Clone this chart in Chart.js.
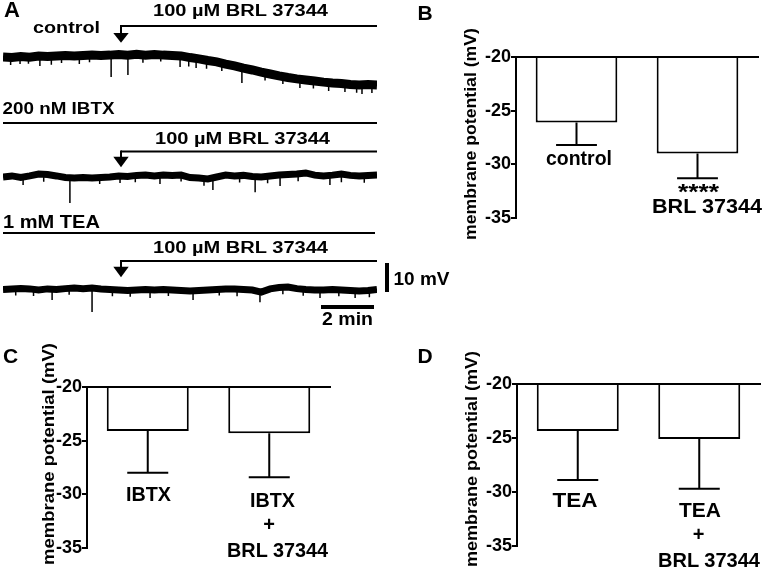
<!DOCTYPE html>
<html>
<head>
<meta charset="utf-8">
<script src="https://cdn.jsdelivr.net/npm/chart.js@4.4.1/dist/chart.umd.min.js"></script>
<style>
  html, body { margin: 0; padding: 0; background: #fff; }
  #page { position: relative; width: 762px; height: 571px; overflow: hidden; background: #fff; }
  canvas { position: absolute; }
  #overlay { position: absolute; left: 0; top: 0; pointer-events: none; }
  #overlay text { font-family: "Liberation Sans", Arial, sans-serif; font-weight: bold; fill: #000; }
</style>
</head>
<body>
<div id="page">
  <canvas id="trace1" width="374" height="66" style="left:3px;top:40px"></canvas>
  <canvas id="trace2" width="374" height="66" style="left:3px;top:150px"></canvas>
  <canvas id="trace3" width="374" height="66" style="left:3px;top:260px"></canvas>
  <canvas id="barB" width="301" height="210" style="left:461px;top:30px"></canvas>
  <canvas id="barC" width="300" height="210" style="left:40px;top:360px"></canvas>
  <canvas id="barD" width="300" height="211" style="left:462px;top:357px"></canvas>

  <svg id="overlay" width="762" height="571">
    <!-- drug application bars and arrows -->
    <g stroke="#000" stroke-width="2" fill="none">
      <line x1="121" y1="26" x2="377" y2="26"/>
      <line x1="121" y1="25" x2="121" y2="34"/>
      <line x1="3" y1="123" x2="377" y2="123"/>
      <line x1="121" y1="151.5" x2="377" y2="151.5"/>
      <line x1="121" y1="150.5" x2="121" y2="158"/>
      <line x1="3" y1="233" x2="375" y2="233"/>
      <line x1="121" y1="261" x2="377" y2="261"/>
      <line x1="121" y1="260" x2="121" y2="268"/>
    </g>
    <g fill="#000">
      <polygon points="113.3,33 128.7,33 121,42.7"/>
      <polygon points="113.3,156.7 128.7,156.7 121,167.3"/>
      <polygon points="113.3,266.7 128.7,266.7 121,277.3"/>
      <!-- scale bars: 10 mV / 2 min -->
      <rect x="385" y="263" width="4" height="29"/>
      <rect x="321" y="305" width="53" height="4"/>
    </g>

    <text x="12" y="17" font-size="22" text-anchor="middle">A</text>
    <text x="240.5" y="16" font-size="16" text-anchor="middle" textLength="175" lengthAdjust="spacingAndGlyphs">100 µM BRL 37344</text>
    <text x="66.5" y="33" font-size="17" text-anchor="middle" textLength="67" lengthAdjust="spacingAndGlyphs">control</text>
    <text x="58.5" y="114" font-size="17" text-anchor="middle" textLength="112" lengthAdjust="spacingAndGlyphs">200 nM IBTX</text>
    <text x="242.5" y="143.5" font-size="16" text-anchor="middle" textLength="175" lengthAdjust="spacingAndGlyphs">100 µM BRL 37344</text>
    <text x="51.5" y="228" font-size="18" text-anchor="middle" textLength="97" lengthAdjust="spacingAndGlyphs">1 mM TEA</text>
    <text x="240.5" y="253" font-size="16" text-anchor="middle" textLength="175" lengthAdjust="spacingAndGlyphs">100 µM BRL 37344</text>
    <text x="421.5" y="285" font-size="18" text-anchor="middle" textLength="56" lengthAdjust="spacingAndGlyphs">10 mV</text>
    <text x="347.5" y="325" font-size="19" text-anchor="middle" textLength="51" lengthAdjust="spacingAndGlyphs">2 min</text>

    <text x="425" y="20" font-size="21" text-anchor="middle">B</text>
    <text transform="translate(475.8,134) rotate(-90)" font-size="16.5" text-anchor="middle" textLength="212" lengthAdjust="spacingAndGlyphs">membrane potential (mV)</text>
    <text x="579" y="165" font-size="20" text-anchor="middle" textLength="66" lengthAdjust="spacingAndGlyphs">control</text>
    <text x="698.5" y="199" font-size="22" text-anchor="middle" textLength="41" lengthAdjust="spacingAndGlyphs">****</text>
    <text x="707" y="213" font-size="21" text-anchor="middle" textLength="110" lengthAdjust="spacingAndGlyphs">BRL 37344</text>

    <text x="10.5" y="363" font-size="21" text-anchor="middle">C</text>
    <text transform="translate(54.3,454) rotate(-90)" font-size="16.5" text-anchor="middle" textLength="222" lengthAdjust="spacingAndGlyphs">membrane potential (mV)</text>
    <text x="148.5" y="501" font-size="20" text-anchor="middle" textLength="45" lengthAdjust="spacingAndGlyphs">IBTX</text>
    <text x="272.5" y="507" font-size="20" text-anchor="middle" textLength="45" lengthAdjust="spacingAndGlyphs">IBTX</text>
    <text x="269" y="531" font-size="20" text-anchor="middle">+</text>
    <text x="277.5" y="557" font-size="20" text-anchor="middle" textLength="101" lengthAdjust="spacingAndGlyphs">BRL 37344</text>

    <text x="425" y="363" font-size="21" text-anchor="middle">D</text>
    <text transform="translate(476.8,459) rotate(-90)" font-size="16.5" text-anchor="middle" textLength="216" lengthAdjust="spacingAndGlyphs">membrane potential (mV)</text>
    <text x="575" y="507" font-size="20" text-anchor="middle" textLength="45" lengthAdjust="spacingAndGlyphs">TEA</text>
    <text x="700" y="517" font-size="20" text-anchor="middle" textLength="42" lengthAdjust="spacingAndGlyphs">TEA</text>
    <text x="698.5" y="541" font-size="20" text-anchor="middle">+</text>
    <text x="709" y="567" font-size="20" text-anchor="middle" textLength="102" lengthAdjust="spacingAndGlyphs">BRL 37344</text>
  </svg>
</div>

<script>
// ---- panel A: recordings, time in min, membrane potential relative (mV) ----
const traceTime = [0, 0.35, 0.7, 1.05, 1.4, 1.75, 2.1, 2.45, 2.8, 3.15, 3.5, 3.85, 4.2, 4.55, 4.9, 5.25, 5.6, 5.95, 6.3, 6.65,
    7.0, 7.35, 7.7, 8.05, 8.4, 8.75, 9.1, 9.45, 9.8, 10.15, 10.5, 10.85, 11.2, 11.55, 11.9, 12.25, 12.6, 12.95, 13.3, 13.65,
    14.0, 14.35, 14.7];

// control
const trace1 = [-6.3, -6.5, -6.1, -6.4, -5.9, -6.1, -5.9, -5.7, -5.9, -5.7, -5.6, -5.7, -5.6, -5.4, -5.6, -5.3, -5.6, -5.4, -5.6, -5.7,
    -5.9, -6.5, -7.0, -7.6, -8.1, -8.9, -9.6, -10.4, -11.1, -11.9, -12.6, -13.3, -13.9, -14.4, -14.8, -15.2, -15.6, -15.9, -16.1, -16.5,
    -16.7, -16.5, -16.7];
const spike1Time = [0.3, 0.67, 1.0, 1.45, 1.9, 2.3, 3.0, 3.4, 4.25, 4.91, 5.5, 6.2, 6.96, 7.3, 7.59, 8.0, 8.6, 9.39, 10.3, 11.0,
    11.67, 12.2, 12.8, 13.44, 13.9, 14.11, 14.5];
const spike1Base = [-6.5, -6.3, -6.1, -6.0, -6.0, -5.9, -5.8, -5.7, -5.6, -5.6, -5.5, -5.5, -5.9, -6.4, -6.8, -7.5, -8.5, -10.4, -12.0, -13.3,
    -14.6, -15.1, -15.7, -16.2, -16.6, -16.6, -16.5];
const spike1Tip = [-9.3, -8.9, -8.8, -9.6, -9.2, -8.5, -8.9, -8.2, -13.7, -13.0, -8.4, -8.0, -10.0, -9.8, -10.4, -10.6, -11.5, -15.9, -15.0, -16.3,
    -17.8, -18.0, -18.9, -19.3, -19.5, -20.0, -19.6];

// 200 nM IBTX
const trace2 = [-10.0, -9.6, -10.2, -9.6, -8.9, -9.1, -9.6, -10.2, -10.4, -10.2, -10.4, -10.2, -10.0, -9.6, -9.8, -9.4, -9.3, -9.6, -9.3, -9.4,
    -9.3, -10.2, -10.4, -10.7, -10.0, -9.3, -9.6, -9.4, -9.8, -10.0, -9.6, -9.3, -9.1, -8.9, -8.5, -9.3, -9.6, -9.3, -8.9, -9.4,
    -9.6, -9.4, -9.3];
const spike2Time = [0.79, 1.6, 2.63, 3.8, 4.6, 5.2, 6.17, 7.0, 7.9, 8.25, 9.3, 9.91, 10.4, 10.89, 11.6, 12.85, 13.3, 14.2];
const spike2Base = [-10.1, -9.2, -10.3, -10.3, -9.8, -9.4, -9.5, -9.3, -10.5, -10.5, -9.5, -9.7, -9.8, -9.4, -8.9, -9.3, -9.3, -9.5];
const spike2Tip = [-13.0, -11.8, -19.6, -12.6, -12.2, -11.9, -12.6, -11.7, -13.2, -14.8, -12.0, -15.6, -12.3, -13.3, -11.6, -13.0, -11.9, -12.1];

// 1 mM TEA
const trace3 = [-10.9, -10.7, -10.6, -10.7, -11.1, -10.7, -10.9, -10.6, -10.4, -10.6, -10.4, -10.7, -10.9, -11.1, -11.3, -11.1, -10.9, -11.1, -10.9, -11.1,
    -11.3, -11.5, -11.3, -11.1, -10.9, -10.7, -10.7, -10.9, -11.1, -11.9, -10.7, -10.2, -10.0, -10.6, -10.9, -11.1, -11.1, -10.9, -11.1, -11.3,
    -11.5, -11.3, -10.9];
const spike3Time = [0.5, 1.2, 1.93, 2.6, 3.5, 4.3, 5.0, 5.78, 6.5, 7.47, 8.5, 9.2, 10.1, 11.0, 11.8, 12.46, 13.2, 13.84, 14.4];
const spike3Base = [-10.7, -10.8, -10.7, -10.7, -10.5, -11.0, -11.2, -11.0, -11.0, -11.4, -10.9, -10.9, -11.5, -10.2, -10.9, -11.1, -11.0, -11.2, -11.2];
const spike3Tip = [-13.1, -13.3, -14.8, -12.9, -19.3, -13.4, -13.6, -14.1, -13.3, -14.8, -13.1, -13.4, -15.6, -12.7, -13.2, -14.1, -13.4, -14.1, -13.8];

// ---- panels B, C, D: mean membrane potential (mV) and SEM ----
const labelsB = ["control", "BRL 37344"];
const meanB = [-26.1, -29.0];
const semB = [2.1, 2.3];

const labelsC = ["IBTX", "IBTX + BRL 37344"];
const meanC = [-24.1, -24.3];
const semC = [3.9, 4.1];

const labelsD = ["TEA", "TEA + BRL 37344"];
const meanD = [-24.35, -25.1];
const semD = [4.55, 4.6];

const yTicks = [-20, -25, -30, -35];

const FONT = "'Liberation Sans', Arial, sans-serif";

function makeTrace(id, values, spikeTime, spikeBase, spikeTip, width) {
    const spikes = [];
    spikeTime.forEach((t, i) => {
        spikes.push({x: t, y: spikeBase[i]}, {x: t, y: spikeTip[i]}, {x: t, y: null});
    });
    return new Chart(document.getElementById(id), {
        type: 'line',
        data: {
            datasets: [
                {
                    data: traceTime.map((t, i) => ({x: t, y: values[i]})),
                    borderColor: '#000',
                    borderWidth: width,
                    pointRadius: 0,
                    tension: 0
                },
                {
                    data: spikes,
                    borderColor: '#000',
                    borderWidth: 1.5,
                    pointRadius: 0,
                    spanGaps: false
                }
            ]
        },
        options: {
            responsive: false,
            animation: false,
            layout: { padding: 0 },
            plugins: { legend: { display: false }, tooltip: { enabled: false } },
            scales: {
                x: { type: 'linear', display: false, min: 0, max: 14.7 },
                y: { display: false, min: -24.44, max: 0 }
            }
        }
    });
}

makeTrace('trace1', trace1, spike1Time, spike1Base, spike1Tip, 9);
makeTrace('trace2', trace2, spike2Time, spike2Base, spike2Tip, 7);
makeTrace('trace3', trace3, spike3Time, spike3Base, spike3Tip, 7);

// error bars hanging below each bar, cap half as wide as the bar
const errorBars = {
    id: 'errorBars',
    afterDatasetsDraw(chart) {
        const ctx = chart.ctx;
        const ds = chart.data.datasets[0];
        const yScale = chart.scales.y;
        ctx.save();
        ctx.strokeStyle = '#000';
        ctx.lineWidth = 2;
        chart.getDatasetMeta(0).data.forEach((bar, i) => {
            const y0 = yScale.getPixelForValue(ds.data[i]);
            const y1 = yScale.getPixelForValue(ds.data[i] - ds.errors[i]);
            const half = bar.width / 4;
            ctx.beginPath();
            ctx.moveTo(bar.x, y0);
            ctx.lineTo(bar.x, y1);
            ctx.moveTo(bar.x - half, y1);
            ctx.lineTo(bar.x + half, y1);
            ctx.stroke();
        });
        ctx.restore();
    }
};

function makeBars(id, labels, means, sems, axisWidth, padRight) {
    return new Chart(document.getElementById(id), {
        type: 'bar',
        data: {
            labels: labels,
            datasets: [{
                data: means,
                errors: sems,
                base: -20,
                backgroundColor: '#fff',
                borderColor: '#000',
                borderWidth: 2,
                borderSkipped: 'start',
                barPercentage: 0.675,
                categoryPercentage: 1
            }]
        },
        options: {
            responsive: false,
            animation: false,
            layout: { padding: { top: 27, bottom: 22, left: 0, right: padRight } },
            plugins: { legend: { display: false }, tooltip: { enabled: false } },
            scales: {
                x: {
                    position: 'top',
                    grid: { display: false },
                    ticks: { display: false },
                    border: { display: true, color: '#000', width: 2 },
                    afterFit: s => { s.height = 0; }
                },
                y: {
                    min: -35,
                    max: -20,
                    afterBuildTicks: s => { s.ticks = yTicks.map(v => ({value: v})); },
                    ticks: { color: '#000', padding: 0, font: { family: FONT, size: 18, weight: 'bold' } },
                    grid: { drawOnChartArea: false, drawTicks: true, tickLength: 5, color: '#000', lineWidth: 2 },
                    border: { display: true, color: '#000', width: 2 },
                    afterFit: s => { s.width = axisWidth; }
                }
            }
        },
        plugins: [errorBars]
    });
}

makeBars('barB', labelsB, meanB, semB, 55, 4);
makeBars('barC', labelsC, meanC, semC, 47, 10);
makeBars('barD', labelsD, meanD, semD, 55, 2);
</script>
</body>
</html>
